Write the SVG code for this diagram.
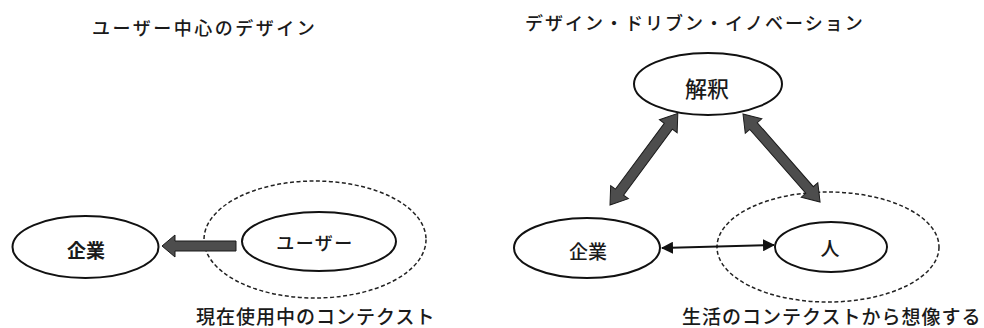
<svg xmlns="http://www.w3.org/2000/svg" width="984" height="328" viewBox="0 0 984 328">
<defs>
<style>
.t{font-family:"Noto Sans CJK JP","Noto Sans",sans-serif;fill:#1a1a1a;dominant-baseline:central;font-weight:500}
.b{font-weight:bold}
.n{fill:#fff;stroke:#111;stroke-width:2}
.d{fill:none;stroke:#222;stroke-width:1.5;stroke-dasharray:4 2.5}
.fat{fill:#4d4d4d;stroke:#1a1a1a;stroke-width:1;stroke-linejoin:miter}
.thin{stroke:#111;stroke-width:2;fill:none}
</style>
<marker id="tri" viewBox="0 0 12 12" refX="11" refY="6" markerWidth="12" markerHeight="12" markerUnits="userSpaceOnUse" orient="auto-start-reverse">
<path d="M0,0 L12,6 L0,12 z" fill="#111"/>
</marker>
</defs>
<rect width="984" height="328" fill="#fff"/>

<text class="t" x="92" y="27" font-size="18" letter-spacing="2.5">ユーザー中心のデザイン</text>
<text class="t" x="525" y="22" font-size="18" letter-spacing="2">デザイン・ドリブン・イノベーション</text>

<g id="context-left">
<ellipse class="d" cx="315" cy="239.5" rx="111" ry="58.5"/>
<text class="t" x="196" y="315" font-size="19" letter-spacing="1">現在使用中のコンテクスト</text>
</g>
<g id="context-right">
<ellipse class="d" cx="828" cy="247" rx="111" ry="55"/>
<text class="t" x="682" y="315" font-size="19" letter-spacing="1">生活のコンテクストから想像する</text>
</g>

<g id="kigyo-left">
<ellipse class="n" cx="85.5" cy="247" rx="73" ry="31"/>
<text class="t b" x="86" y="249" font-size="19" text-anchor="middle">企業</text>
</g>
<g id="user">
<ellipse class="n" cx="319" cy="241.5" rx="77" ry="29.5"/>
<text class="t" x="315" y="242" font-size="18" letter-spacing="1.5" text-anchor="middle">ユーザー</text>
</g>
<g id="kaishaku">
<ellipse class="n" cx="708" cy="84" rx="74" ry="31"/>
<text class="t" x="707" y="87" font-size="22" text-anchor="middle">解釈</text>
</g>
<g id="kigyo-right">
<ellipse class="n" cx="587" cy="248" rx="73" ry="30"/>
<text class="t" x="588" y="250" font-size="19" text-anchor="middle">企業</text>
</g>
<g id="hito">
<ellipse class="n" cx="831" cy="247" rx="56" ry="25"/>
<text class="t" x="830" y="247" font-size="19" text-anchor="middle">人</text>
</g>

<g id="connectors">
<polygon class="fat" points="162,246 175,235 175,241 236,241 236,251 175,251 175,257"/>
<polygon class="fat" transform="translate(610,205) rotate(-53.5)" points="0,0 16,-11 16,-5 98,-5 98,-11 114,0 98,11 98,5 16,5 16,11"/>
<polygon class="fat" transform="translate(743,114) rotate(48.8)" points="0,0 16,-11 16,-5 101,-5 101,-11 117,0 101,11 101,5 16,5 16,11"/>
<line class="thin" x1="662" y1="248" x2="774" y2="245" marker-start="url(#tri)" marker-end="url(#tri)"/>
</g>
</svg>
